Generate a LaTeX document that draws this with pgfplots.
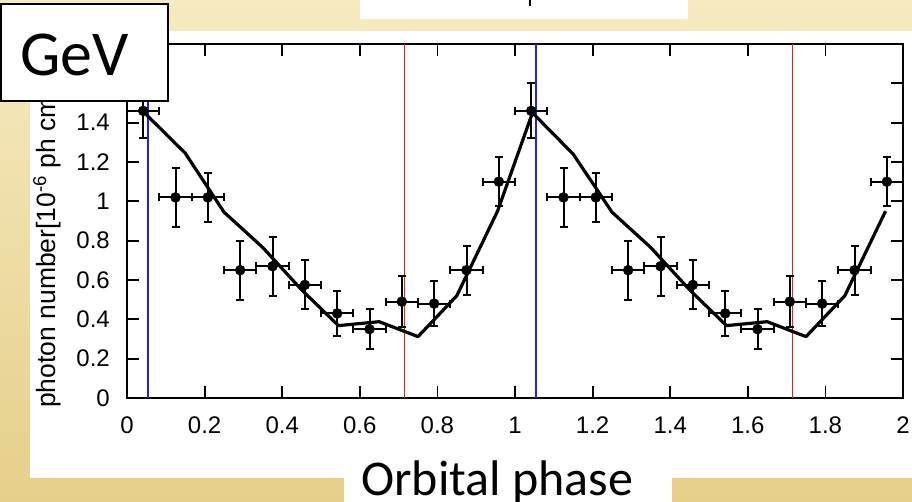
\documentclass[border=0pt]{standalone}
\usepackage{pgfplots}
\pgfplotsset{compat=1.18}
\usepackage{pgfplotstable}
\usepackage{fontspec}
\setmainfont{Liberation Sans}
\newfontfamily\carlito{Carlito}
\definecolor{bgtop}{RGB}{246,234,192}
\definecolor{bgbot}{RGB}{229,207,138}
\definecolor{vblue}{RGB}{30,30,255}
\definecolor{vred}{RGB}{255,20,20}

\pgfplotstableread{
x y ex ey
0.0417 1.46 0.0417 0.14
0.125 1.02 0.0417 0.15
0.2083 1.02 0.0417 0.125
0.2917 0.65 0.0417 0.15
0.375 0.67 0.0417 0.15
0.4583 0.575 0.0417 0.125
0.5417 0.43 0.0417 0.115
0.625 0.35 0.0417 0.10
0.7083 0.49 0.0417 0.13
0.7917 0.48 0.0417 0.115
0.875 0.65 0.0417 0.125
0.9583 1.10 0.0417 0.125
1.0417 1.46 0.0417 0.14
1.125 1.02 0.0417 0.15
1.2083 1.02 0.0417 0.125
1.2917 0.65 0.0417 0.15
1.375 0.67 0.0417 0.15
1.4583 0.575 0.0417 0.125
1.5417 0.43 0.0417 0.115
1.625 0.35 0.0417 0.10
1.7083 0.49 0.0417 0.13
1.7917 0.48 0.0417 0.115
1.875 0.65 0.0417 0.125
1.9583 1.10 0.0417 0.125
}\obsdata

\pgfplotstableread{
x y
0.045 1.45
0.15 1.245
0.25 0.945
0.35 0.765
0.45 0.55
0.545 0.368
0.65 0.388
0.75 0.312
0.85 0.52
0.955 0.95
1.045 1.45
1.15 1.24
1.25 0.945
1.35 0.765
1.45 0.55
1.545 0.368
1.65 0.388
1.75 0.312
1.85 0.52
1.955 0.95
}\modeldata

\begin{document}
\begin{tikzpicture}
\path[use as bounding box] (0,0) rectangle (912pt,502pt);
\shade[top color=bgtop, bottom color=bgbot] (0,0) rectangle (912pt,502pt);
\fill[white] (30pt,24pt) rectangle (912pt,471pt);
\fill[white] (344pt,0pt) rectangle (672pt,24pt);
\fill[white] (360pt,483pt) rectangle (688pt,502pt);
\draw[black, line width=2.5pt] (530pt,496pt) -- (530pt,502pt);

\begin{axis}[
  at={(127pt,104pt)}, anchor=south west,
  scale only axis, width=776pt, height=354pt,
  xmin=0, xmax=2, ymin=0, ymax=1.8,
  xtick={0,0.2,0.4,0.6,0.8,1,1.2,1.4,1.6,1.8,2},
  xticklabels={0,0.2,0.4,0.6,0.8,1,1.2,1.4,1.6,1.8,2},
  ytick={0,0.2,0.4,0.6,0.8,1,1.2,1.4,1.6},
  yticklabels={0,0.2,0.4,0.6,0.8,1,1.2,1.4,1.6},
  /pgf/number format/assume math mode=true,
  tick align=inside, tick pos=both,
  major tick length=12pt,
  axis line style={line width=1.8pt},
  every tick/.style={black, line width=1.8pt},
  xticklabel style={font=\fontsize{24}{28}\selectfont, anchor=north, inner sep=0pt, yshift=-19pt},
  yticklabel style={font=\fontsize{24}{28}\selectfont, anchor=east, inner sep=0pt, xshift=-17pt},
  xlabel={\carlito Orbital phase},
  xlabel style={at={(rel axis cs:0.4774,0)}, anchor=base, yshift=-98pt, font=\fontsize{50}{56}\selectfont},
  ylabel={photon number[10\textsuperscript{-6} ph cm\textsuperscript{-2} s\textsuperscript{-1}]},
  ylabel style={at={([xshift=-80pt]rel axis cs:0,0.5)}, anchor=center, font=\fontsize{26.5}{30}\selectfont},
  clip=false,
]
\addplot[vblue, line width=1.8pt] coordinates {(0.055,0) (0.055,1.8)};
\addplot[vblue, line width=1.8pt] coordinates {(1.055,0) (1.055,1.8)};
\addplot[vred, line width=1.8pt] coordinates {(0.715,0) (0.715,1.8)};
\addplot[vred, line width=1.8pt] coordinates {(1.715,0) (1.715,1.8)};
\addplot[black, line width=3.2pt, line join=round] table[x=x,y=y] {\modeldata};
\addplot[black, only marks, mark=*, mark size=5pt,
  error bars/.cd, x dir=both, x explicit, y dir=both, y explicit,
  error bar style={line width=2pt, black},
  error mark options={rotate=90, line width=2pt, black, mark size=4pt}]
  table[x=x, y=y, x error=ex, y error=ey] {\obsdata};
\end{axis}

\draw[black, line width=2pt, fill=white] (1pt,401pt) rectangle (168pt,498pt);
\node[anchor=center, inner sep=0pt] at (74.5pt,447.5pt) {\carlito\fontsize{64}{70}\selectfont GeV};
\end{tikzpicture}
\end{document}
